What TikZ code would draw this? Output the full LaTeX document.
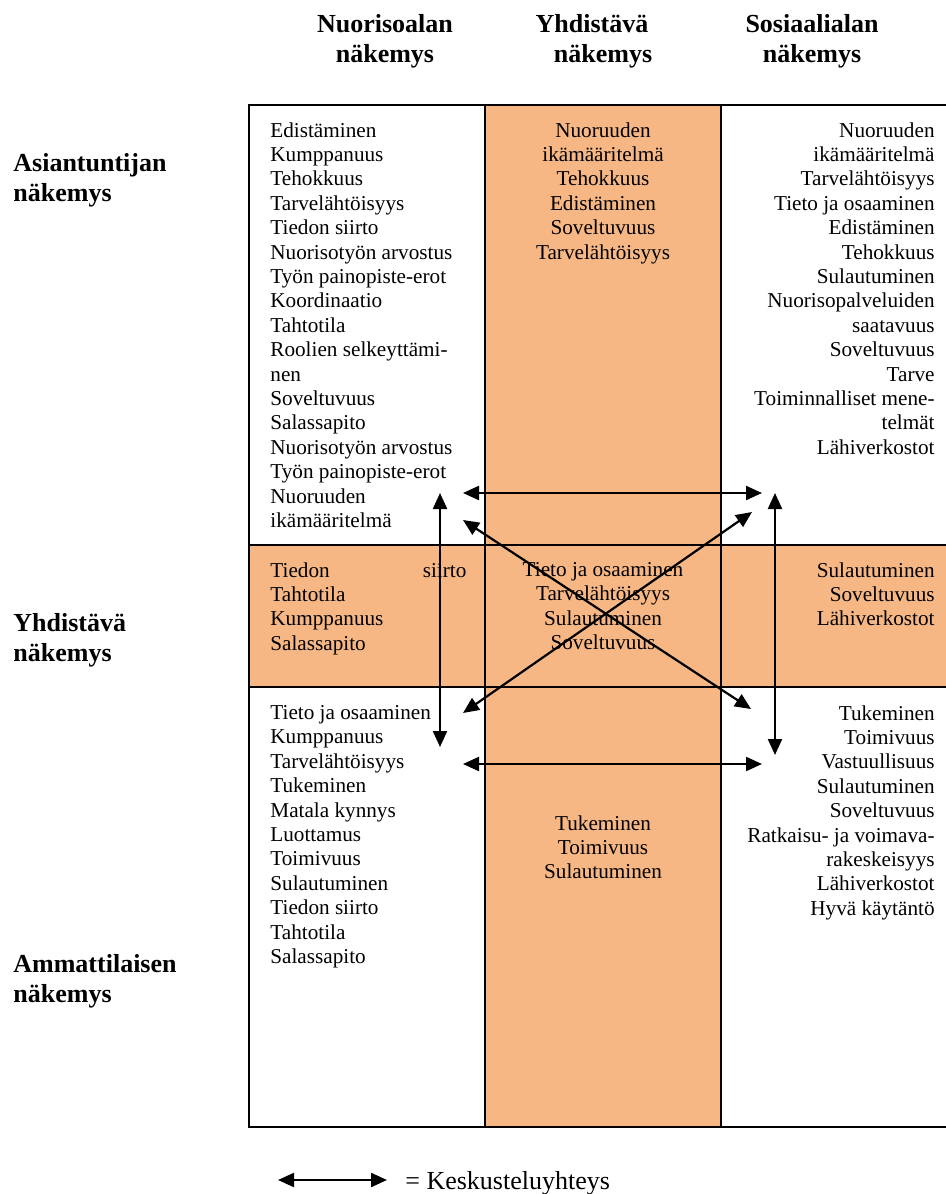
\documentclass[tikz,border=0pt]{standalone}
\usepackage{fontspec}
\setmainfont{Liberation Serif}
\definecolor{nkOrange}{HTML}{F6B784}
\usetikzlibrary{arrows.meta}

\begin{document}
\begin{tikzpicture}[x=0.5pt, y=-0.5pt,
  every node/.style={inner sep=0pt},
  body/.style={font=\fontsize{10.6}{12.2}\selectfont},
  cellL/.style={body, anchor=north west, align=left},
  cellC/.style={body, anchor=north, align=center},
  cellR/.style={body, anchor=north east, align=right},
  colhead/.style={anchor=north, align=center, font=\fontsize{13}{15}\selectfont\bfseries},
  rowhead/.style={anchor=north west, align=left, font=\fontsize{13}{15}\selectfont\bfseries},
  link/.style={line width=1.1pt, {Triangle[length=8pt,width=7pt]}-{Triangle[length=8pt,width=7pt]}}]
  \useasboundingbox (0,0) rectangle (946,1194);

  % Shading - combined column and combined row
  \fill[nkOrange] (485,105) rectangle (721,1127);
  \fill[nkOrange] (249,545) rectangle (946,687);

  % Grid
  \draw[line width=1pt] (946,105) -- (249,105) -- (249,1127) -- (946,1127);
  \draw[line width=1pt] (485,105) -- (485,1127);
  \draw[line width=1pt] (721,105) -- (721,1127);
  \draw[line width=1pt] (249,545) -- (946,545);
  \draw[line width=1pt] (249,687) -- (946,687);

  % Column headings
  \node[colhead] (hNuoriso) at (385,14) {Nuorisoalan\\näkemys};
  \node[colhead] (hYhd) at (592,14) {Yhdistävä\\\hspace*{11pt}näkemys};
  \node[colhead] (hSosiaali) at (812,14) {Sosiaalialan\\näkemys};

  % Row headings
  \node[rowhead] (rAsiantuntija) at (13,153) {Asiantuntijan\\näkemys};
  \node[rowhead] (rYhd) at (13,613) {Yhdistävä\\näkemys};
  \node[rowhead] (rAmmatti) at (13,954) {Ammattilaisen\\näkemys};

  % Expert row
  \node[cellL] (aL) at (270,122) {Edistäminen\\Kumppanuus\\Tehokkuus\\Tarvelähtöisyys\\Tiedon siirto\\Nuorisotyön arvostus\\Työn painopiste-erot\\Koordinaatio\\Tahtotila\\Roolien selkeyttämi-\\nen\\Soveltuvuus\\Salassapito\\Nuorisotyön arvostus\\Työn painopiste-erot\\Nuoruuden\\ikämääritelmä};
  \node[cellC] (aC) at (603,122) {Nuoruuden\\ikämääritelmä\\Tehokkuus\\Edistäminen\\Soveltuvuus\\Tarvelähtöisyys};
  \node[cellR] (aR) at (935,122) {Nuoruuden\\ikämääritelmä\\Tarvelähtöisyys\\Tieto ja osaaminen\\Edistäminen\\Tehokkuus\\Sulautuminen\\Nuorisopalveluiden\\saatavuus\\Soveltuvuus\\Tarve\\Toiminnalliset mene-\\telmät\\Lähiverkostot};

  % Combined row
  \node[cellL] (yL) at (270,562) {\hbox to 98pt{Tiedon\hfill siirto}\\Tahtotila\\Kumppanuus\\Salassapito};
  \node[cellC] (yC) at (603,562) {Tieto ja osaaminen\\Tarvelähtöisyys\\Sulautuminen\\Soveltuvuus};
  \node[cellR] (yR) at (935,562) {Sulautuminen\\Soveltuvuus\\Lähiverkostot};

  % Professional row
  \node[cellL] (pL) at (270,705) {Tieto ja osaaminen\\Kumppanuus\\Tarvelähtöisyys\\Tukeminen\\Matala kynnys\\Luottamus\\Toimivuus\\Sulautuminen\\Tiedon siirto\\Tahtotila\\Salassapito};
  \node[cellC] (pC) at (603,815) {Tukeminen\\Toimivuus\\Sulautuminen};
  \node[cellR] (pR) at (935,705) {Tukeminen\\Toimivuus\\Vastuullisuus\\Sulautuminen\\Soveltuvuus\\Ratkaisu- ja voimava-\\rakeskeisyys\\Lähiverkostot\\Hyvä käytäntö};

  % Arrow ends
  \coordinate (topL) at (463,493);
  \coordinate (topR) at (762,493);
  \coordinate (botL) at (463,764);
  \coordinate (botR) at (762,764);
  \coordinate (leftT) at (440,493);
  \coordinate (leftB) at (440,747);
  \coordinate (rightT) at (775,493);
  \coordinate (rightB) at (775,755);
  \coordinate (crossNW) at (463,520);
  \coordinate (crossSE) at (751,709);
  \coordinate (crossSW) at (463,713);
  \coordinate (crossNE) at (752,512);

  % Dialogue links
  \draw[link] (topL) -- (topR);
  \draw[link] (botL) -- (botR);
  \draw[link] (leftT) -- (leftB);
  \draw[link] (rightT) -- (rightB);
  \draw[link] (crossNW) -- (crossSE);
  \draw[link] (crossSW) -- (crossNE);

  % Legend
  \coordinate (legL) at (278,1180);
  \coordinate (legR) at (387,1180);
  \draw[link] (legL) -- (legR);
  \node[anchor=base west, font=\fontsize{13}{15}\selectfont] (legText) at (405,1189) {= Keskusteluyhteys};
\end{tikzpicture}
\end{document}
